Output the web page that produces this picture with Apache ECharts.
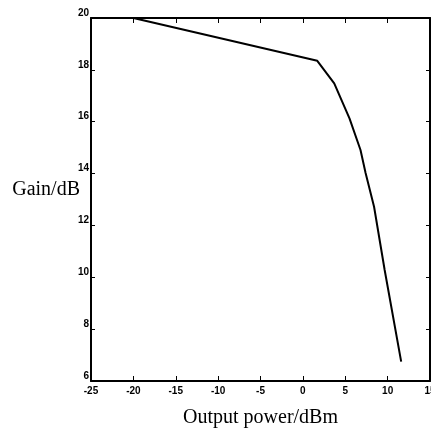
<!DOCTYPE html>
<html>
<head>
    <meta charset="utf-8">
    <title>Gain vs output power</title>
    <script src="https://cdn.jsdelivr.net/npm/echarts@6/dist/echarts.min.js"></script>
    <style>
        body { margin: 0; background: #fff; }
    </style>
</head>
<body>
    <div id="box" style="width: 431px;height: 429px;"></div>
    <script>
        var outPower = [-20, 1.7, 3.7, 5.5, 6.8, 7.4, 8.4, 9.65, 11.6];
        var gain = [20, 18.35, 17.48, 16.13, 14.91, 14.02, 12.72, 10.28, 6.75];

        var pts = outPower.map(function (x, i) { return [x, gain[i]]; });

        var tickFont = { fontFamily: 'Liberation Sans', fontSize: 10, color: '#000', fontWeight: 'bold' };
        var frame = { show: true, onZero: false, lineStyle: { color: '#000', width: 2 } };

        var myChart = echarts.init(document.getElementById("box"));
        var option = {
            animation: false,
            backgroundColor: '#fff',
            grid: { left: 91, right: 1, top: 18, bottom: 48, outerBoundsMode: 'none', containLabel: false },
            xAxis: [{
                type: 'value', min: -25, max: 15, interval: 5,
                position: 'bottom',
                name: 'Output power/dBm', nameLocation: 'middle', nameGap: 27,
                nameTextStyle: { fontFamily: 'Liberation Serif', fontSize: 20, color: '#000' },
                axisLine: frame,
                axisTick: { show: true, inside: true, length: 5, lineStyle: { color: '#000' } },
                axisLabel: Object.assign({ margin: 5 }, tickFont),
                splitLine: { show: false }
            }, {
                type: 'value', min: -25, max: 15, interval: 5,
                position: 'top',
                axisLine: frame,
                axisTick: { show: true, inside: true, length: 5, lineStyle: { color: '#000' } },
                axisLabel: { show: false },
                splitLine: { show: false }
            }],
            yAxis: [{
                type: 'value', min: 6, max: 20, interval: 2,
                position: 'left',
                name: 'Gain/dB', nameLocation: 'middle', nameGap: 11, nameRotate: 0,
                nameMoveOverlap: false,
                nameTextStyle: { fontFamily: 'Liberation Serif', fontSize: 20, color: '#000', align: 'right', verticalAlign: 'bottom' },
                axisLine: frame,
                axisTick: { show: true, inside: true, length: 4, lineStyle: { color: '#000' } },
                axisLabel: Object.assign({ margin: 2, verticalAlign: 'bottom' }, tickFont),
                splitLine: { show: false }
            }, {
                type: 'value', min: 6, max: 20, interval: 2,
                position: 'right',
                axisLine: frame,
                axisTick: { show: true, inside: true, length: 4, lineStyle: { color: '#000' } },
                axisLabel: { show: false },
                splitLine: { show: false }
            }],
            series: [{
                type: 'line',
                data: pts,
                symbol: 'none',
                lineStyle: { color: '#000', width: 2 }
            }]
        };
        myChart.setOption(option);
    </script>
</body>
</html>
